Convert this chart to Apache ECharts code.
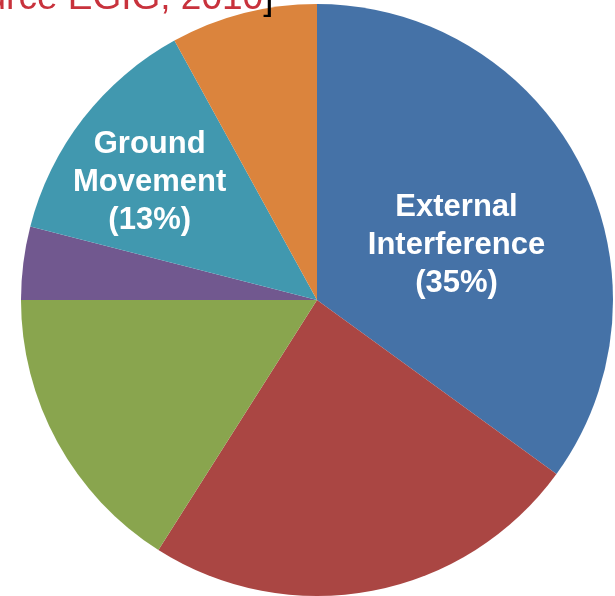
<!DOCTYPE html>
<html>
<head>
<meta charset="utf-8">
<script src="https://cdn.jsdelivr.net/npm/echarts@6/dist/echarts.min.js"></script>
<style>
html,body{margin:0;padding:0;background:#fff;}
#chart{width:615px;height:596px;}
</style>
</head>
<body>
<div id="chart"></div>
<script>
var categories = ["External Interference", "Construction Defect / Material Failure", "Corrosion", "Hot Tap Made by Error", "Ground Movement", "Other / Unknown"];
var values = [35, 24, 16, 4, 13, 8];
var colors = ["#4572A7", "#AA4643", "#89A54E", "#71588F", "#4198AF", "#DB843D"];
var labelLines = {0: "External\nInterference\n(35%)", 4: "Ground\nMovement\n(13%)"};
var sourceText = "[Source EGIG, 2010";

var FONT = "'Liberation Sans', Arial, Helvetica, sans-serif";
var chart = echarts.init(document.getElementById('chart'), null, {renderer: 'canvas'});

var data = categories.map(function (c, i) {
  var d = {name: c, value: values[i], itemStyle: {color: colors[i]}};
  if (labelLines[i]) {
    d.label = {show: true, formatter: labelLines[i]};
  } else {
    d.label = {show: false};
  }
  return d;
});

var labelShift = {0: [5, 14], 4: [-48, -25]};

chart.setOption({
  animation: false,
  backgroundColor: '#ffffff',
  graphic: [{
    type: 'text',
    left: -70,
    top: -20,
    style: {
      text: '{r|' + sourceText + '}{k|]}',
      rich: {
        r: {fill: '#C8323C', fontSize: 37, fontFamily: FONT},
        k: {fill: '#000000', fontSize: 37, fontFamily: FONT}
      }
    },
    z: 10
  }],
  series: [{
    type: 'pie',
    center: [317, 300],
    radius: 296,
    startAngle: 90,
    clockwise: true,
    silent: true,
    itemStyle: {borderWidth: 0},
    label: {
      show: true,
      position: 'inside',
      color: '#ffffff',
      fontSize: 31,
      fontWeight: 'bold',
      fontFamily: FONT,
      lineHeight: 38,
      align: 'center'
    },
    labelLine: {show: false},
    labelLayout: function (p) {
      var s = labelShift[p.dataIndex];
      return s ? {dx: s[0], dy: s[1]} : {};
    },
    data: data
  }]
});
</script>
</body>
</html>
